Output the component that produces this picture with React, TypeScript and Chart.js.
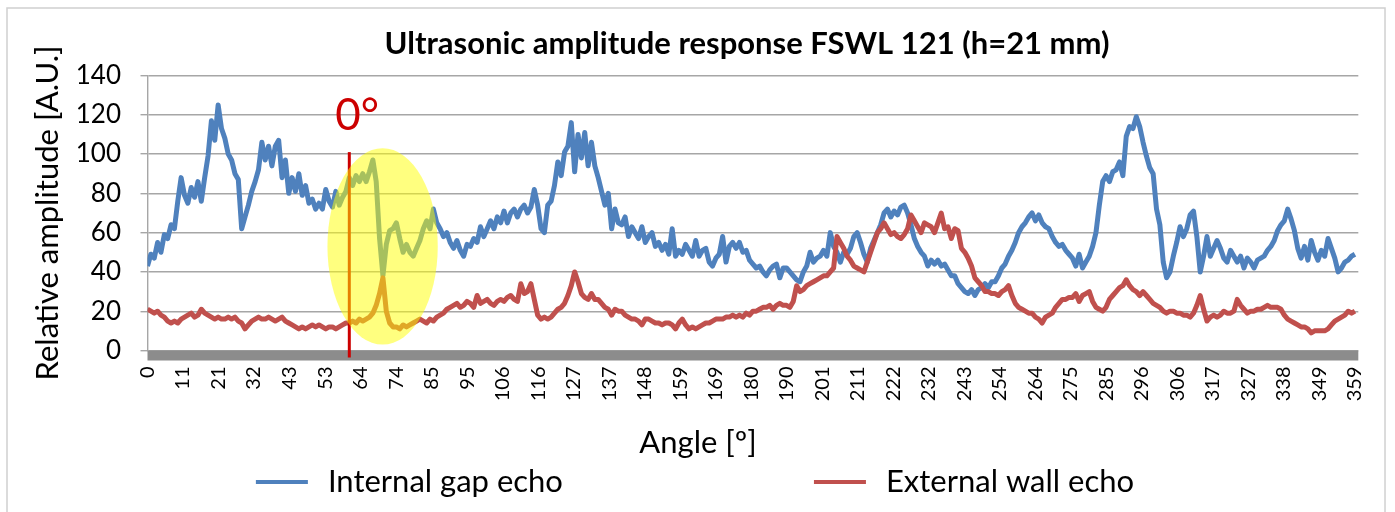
import React, { useEffect, useRef } from 'react';
import { Chart, registerables } from 'chart.js';

Chart.register(...registerables);

// Angle categories (degrees), one reading per degree
const angles: number[] = Array.from({ length: 360 }, (_, i) => i);

const internalGapEcho: number[] = [
  43, 49, 47, 55, 50, 59, 57, 64, 62, 76,
  88, 79, 75, 83, 78, 86, 76, 88, 99, 117,
  107, 125, 113, 108, 100, 97, 90, 87, 62, 68,
  74, 81, 86, 92, 106, 97, 104, 94, 104, 107,
  88, 97, 80, 88, 81, 90, 79, 84, 75, 77,
  72, 75, 72, 82, 76, 73, 81, 74, 78, 81,
  88, 84, 89, 86, 90, 86, 91, 97, 86, 57,
  38, 54, 61, 62, 65, 57, 50, 54, 50, 48,
  52, 56, 62, 66, 62, 72, 65, 62, 58, 60,
  55, 52, 56, 51, 48, 54, 53, 57, 55, 63,
  58, 62, 66, 62, 68, 65, 71, 65, 70, 72,
  68, 72, 74, 70, 73, 82, 74, 62, 60, 74,
  76, 84, 96, 89, 101, 104, 116, 91, 110, 98,
  111, 94, 106, 94, 88, 81, 74, 80, 62, 72,
  65, 64, 68, 58, 63, 60, 57, 63, 55, 58,
  60, 53, 55, 51, 54, 49, 62, 48, 51, 49,
  54, 51, 48, 56, 48, 51, 52, 45, 43, 47,
  49, 58, 45, 53, 55, 52, 55, 50, 51, 46,
  44, 42, 43, 40, 38, 41, 43, 44, 37, 42,
  42, 40, 38, 36, 35, 40, 43, 50, 45, 47,
  48, 51, 48, 60, 53, 50, 45, 50, 49, 52,
  58, 60, 55, 49, 45, 52, 56, 60, 64, 70,
  72, 68, 71, 69, 73, 74, 70, 64, 57, 53,
  50, 48, 43, 46, 44, 46, 43, 44, 41, 38,
  38, 34, 32, 30, 29, 31, 28, 31, 32, 34,
  32, 35, 35, 38, 42, 44, 48, 51, 55, 60,
  63, 65, 68, 70, 66, 69, 65, 63, 62, 58,
  55, 53, 54, 51, 49, 47, 43, 49, 42, 45,
  48, 53, 60, 74, 86, 89, 86, 91, 92, 96,
  89, 109, 114, 113, 119, 114, 106, 99, 93, 90,
  72, 64, 45, 37, 40, 48, 55, 63, 58, 62,
  69, 71, 58, 40, 48, 58, 48, 52, 56, 52,
  47, 45, 51, 48, 45, 48, 42, 47, 45, 42,
  46, 47, 48, 51, 53, 56, 61, 64, 66, 72,
  67, 61, 52, 47, 53, 46, 56, 50, 46, 51,
  48, 57, 52, 47, 40, 42, 45, 46, 48, 49,
];

const externalWallEcho: number[] = [
  21, 20, 19, 20, 18, 17, 15, 14, 15, 14,
  16, 17, 18, 19, 17, 18, 21, 19, 18, 17,
  16, 17, 16, 16, 17, 16, 17, 15, 14, 11,
  13, 15, 16, 17, 16, 16, 17, 16, 15, 16,
  17, 15, 14, 13, 12, 11, 12, 11, 12, 13,
  12, 13, 12, 11, 12, 12, 11, 12, 13, 14,
  14, 15, 14, 16, 15, 16, 17, 19, 23, 29,
  37, 20, 14, 12, 12, 11, 13, 12, 13, 14,
  15, 16, 15, 14, 16, 15, 17, 18, 19, 21,
  22, 23, 24, 22, 23, 25, 24, 22, 28, 24,
  25, 26, 24, 23, 25, 26, 25, 27, 28, 26,
  25, 34, 29, 30, 34, 26, 18, 16, 17, 16,
  17, 19, 21, 22, 24, 28, 33, 40, 35, 29,
  27, 26, 29, 26, 26, 24, 22, 21, 18, 21,
  20, 20, 18, 17, 16, 16, 15, 13, 16, 16,
  15, 14, 14, 13, 14, 14, 13, 11, 14, 16,
  13, 11, 12, 11, 12, 13, 14, 14, 15, 16,
  16, 16, 17, 17, 18, 17, 18, 17, 19, 18,
  20, 20, 21, 22, 22, 23, 21, 23, 24, 23,
  23, 22, 25, 33, 30, 31, 33, 34, 35, 36,
  37, 38, 38, 40, 42, 58, 55, 52, 48, 46,
  43, 42, 41, 40, 45, 50, 55, 60, 62, 65,
  62, 59, 60, 58, 57, 59, 62, 69, 66, 63,
  60, 65, 64, 63, 60, 65, 70, 62, 63, 57,
  62, 61, 52, 50, 47, 43, 37, 35, 33, 30,
  30, 29, 29, 28, 30, 31, 33, 28, 24, 22,
  21, 20, 19, 19, 17, 16, 14, 17, 18, 19,
  22, 24, 26, 26, 27, 27, 29, 25, 28, 29,
  30, 25, 22, 21, 20, 22, 26, 28, 30, 32,
  33, 36, 33, 31, 30, 28, 30, 28, 26, 24,
  23, 22, 20, 19, 20, 20, 19, 19, 18, 18,
  17, 19, 23, 28, 21, 15, 17, 18, 17, 18,
  20, 19, 19, 20, 26, 23, 21, 19, 20, 20,
  21, 21, 22, 23, 22, 22, 22, 21, 18, 16,
  15, 14, 13, 12, 12, 11, 9, 10, 10, 10,
  10, 11, 13, 15, 16, 17, 18, 20, 19, 20,
];

const xTickLabels: number[] = [
  0, 11, 21, 32, 43, 53, 64, 74, 85, 95, 106, 116, 127, 137, 148, 159, 169, 180,
  190, 201, 211, 222, 232, 243, 254, 264, 275, 285, 296, 306, 317, 327, 338, 349, 359,
];

const seriesNames = ['Internal gap echo', 'External wall echo'];
const seriesColors = ['#4f81bd', '#c0504d'];

const chartTitle = 'Ultrasonic amplitude response FSWL 121 (h=21 mm)';
const xTitle = 'Angle [º]';
const yTitle = 'Relative amplitude [A.U.]';

// 0° reference marker and highlighted region (data units)
const zeroMarkAngle = 60;
const zeroMarkTop = 101;
const zeroMarkText = '0°';
const highlightAngles = [53.5, 86.3];
const highlightValues = [3, 103];

const FONT = 'Lato';

const decorations = {
  id: 'decorations',
  beforeDraw(chart: any) {
    const { ctx, width, height } = chart;
    ctx.save();
    ctx.fillStyle = '#ffffff';
    ctx.fillRect(0, 0, width, height);
    ctx.strokeStyle = '#d0d0d0';
    ctx.lineWidth = 1.5;
    ctx.strokeRect(7, 8, 1378, 600);
    ctx.restore();
  },
  afterDatasetsDraw(chart: any) {
    const { ctx, chartArea } = chart;
    const x = chart.scales.x;
    const y = chart.scales.y;
    ctx.save();
    // floor band
    ctx.fillStyle = '#8c8c8c';
    ctx.fillRect(chartArea.left, chartArea.bottom, chartArea.right - chartArea.left, 10);
    // red 0° line
    const lx = x.getPixelForValue(zeroMarkAngle);
    const ty = y.getPixelForValue(zeroMarkTop);
    ctx.strokeStyle = '#cc0000';
    ctx.lineWidth = 3;
    ctx.beginPath();
    ctx.moveTo(lx, ty);
    ctx.lineTo(lx, chartArea.bottom + 7);
    ctx.stroke();
    // highlight ellipse
    const x0 = x.getPixelForValue(highlightAngles[0]);
    const x1 = x.getPixelForValue(highlightAngles[1]);
    const y0 = y.getPixelForValue(highlightValues[0]);
    const y1 = y.getPixelForValue(highlightValues[1]);
    ctx.fillStyle = 'rgba(255,255,0,0.5)';
    ctx.beginPath();
    ctx.ellipse((x0 + x1) / 2, (y0 + y1) / 2, Math.abs(x1 - x0) / 2, Math.abs(y0 - y1) / 2, 0, 0, Math.PI * 2);
    ctx.fill();
    // 0° text
    ctx.fillStyle = '#cc0000';
    ctx.font = `44px ${FONT}`;
    ctx.textAlign = 'left';
    ctx.textBaseline = 'alphabetic';
    ctx.fillText(zeroMarkText, lx - 14, ty - 22);
    ctx.restore();
  },
  afterDraw(chart: any) {
    const { ctx } = chart;
    ctx.save();
    ctx.fillStyle = '#000000';
    ctx.textBaseline = 'alphabetic';
    ctx.textAlign = 'center';
    ctx.font = `bold 31px ${FONT}`;
    ctx.fillText(chartTitle, 747, 54);
    ctx.font = `31px ${FONT}`;
    ctx.fillText(xTitle, 698, 453);
    // legend
    ctx.font = `31px ${FONT}`;
    const sample = 52;
    const gapText = 20;
    const gapItem = 251;
    const widths = seriesNames.map((n) => ctx.measureText(n).width);
    const total = widths.reduce((a, w) => a + sample + gapText + w, 0) + gapItem;
    let cx = 695 - total / 2;
    const ly = 482;
    ctx.textAlign = 'left';
    ctx.textBaseline = 'middle';
    seriesNames.forEach((name, i) => {
      ctx.strokeStyle = seriesColors[i];
      ctx.lineWidth = 4;
      ctx.beginPath();
      ctx.moveTo(cx, ly);
      ctx.lineTo(cx + sample, ly);
      ctx.stroke();
      ctx.fillStyle = '#000000';
      ctx.fillText(name, cx + sample + gapText, ly);
      cx += sample + gapText + widths[i] + gapItem;
    });
    ctx.restore();
  },
};

export default function App() {
  const canvasRef = useRef<HTMLCanvasElement | null>(null);

  useEffect(() => {
    if (!canvasRef.current) return;
    const series = [internalGapEcho, externalWallEcho];
    const chart = new Chart(canvasRef.current, {
      type: 'line',
      data: {
        datasets: series.map((vals, i) => ({
          label: seriesNames[i],
          data: angles.map((a, k) => ({ x: a, y: vals[k] })),
          borderColor: seriesColors[i],
          backgroundColor: seriesColors[i],
          borderWidth: 5,
          pointRadius: 0,
          tension: 0,
          fill: false,
          borderJoinStyle: 'round' as const,
          order: i === 0 ? 1 : 0,
        })),
      },
      options: {
        animation: false,
        responsive: true,
        maintainAspectRatio: false,
        devicePixelRatio: 1,
        layout: { padding: { left: 0, top: 75.5, right: 19, bottom: 0 } },
        plugins: {
          legend: { display: false },
          title: { display: false },
          tooltip: { enabled: false },
        },
        scales: {
          x: {
            type: 'linear',
            min: 0,
            max: 360,
            grid: { display: false, drawTicks: false },
            border: { display: false },
            afterFit: (scale: any) => {
              scale.height = 161.5;
            },
            afterBuildTicks: (scale: any) => {
              scale.ticks = xTickLabels.map((_, i) => ({ value: (i * 359) / 34 }));
            },
            ticks: {
              autoSkip: false,
              minRotation: 90,
              maxRotation: 90,
              padding: 16,
              color: '#000000',
              font: { family: FONT, size: 20 },
              callback: (_v: any, index: number) => String(xTickLabels[index]),
            },
          },
          y: {
            min: 0,
            max: 140,
            afterFit: (scale: any) => {
              scale.width = 147.5;
            },
            ticks: {
              stepSize: 20,
              padding: 19.5,
              color: '#000000',
              font: { family: FONT, size: 26 },
            },
            grid: { color: '#a6a6a6', lineWidth: 1.4, tickLength: 7 },
            border: { color: '#a6a6a6', width: 1.4 },
            title: {
              display: true,
              text: yTitle,
              color: '#000000',
              font: { family: FONT, size: 31 },
              padding: { top: 29, bottom: 0 },
            },
          },
        },
      },
      plugins: [decorations],
    });
    return () => chart.destroy();
  }, []);

  return (
    <div style={{ position: 'fixed', left: 0, top: 0, width: 1395, height: 512 }}>
      <canvas ref={canvasRef} />
    </div>
  );
}
